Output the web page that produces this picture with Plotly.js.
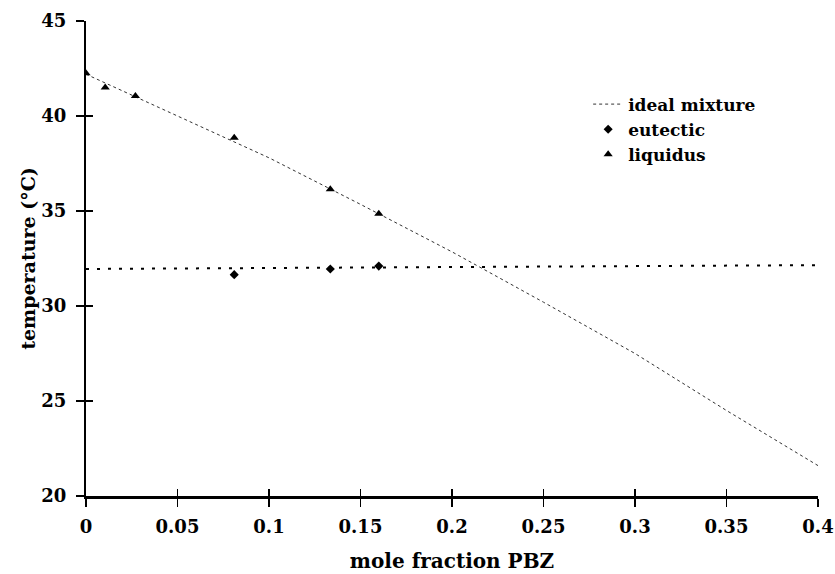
<!DOCTYPE html>
<html>
<head>
<meta charset="utf-8">
<script src="https://cdn.plot.ly/plotly-3.0.1.min.js"></script>
<style>html,body{margin:0;padding:0;background:#fff;}#chart{width:835px;height:574px;}</style>
</head>
<body>
<div id="chart"></div>
<script>
// ideal mixture curve
const idealX = [0, 0.05, 0.1, 0.15, 0.2, 0.25, 0.3, 0.35, 0.4];
const idealY = [42.2, 40.0, 37.8, 35.35, 32.85, 30.2, 27.5, 24.5, 21.6];
// liquidus points
const liquidusX = [0, 0.0105, 0.027, 0.081, 0.1335, 0.160];
const liquidusY = [42.25, 41.5, 41.05, 38.85, 36.15, 34.85];
// eutectic points
const eutecticX = [0.081, 0.1335, 0.160];
const eutecticY = [31.65, 31.95, 32.1];
// eutectic fit line
const eutFitX = [0, 0.4];
const eutFitY = [31.95, 32.15];
// ticks
const xTicks = [0, 0.05, 0.1, 0.15, 0.2, 0.25, 0.3, 0.35, 0.4];
const xTickText = ['0', '0.05', '0.1', '0.15', '0.2', '0.25', '0.3', '0.35', '0.4'];
const yTicks = [20, 25, 30, 35, 40, 45];

const FONT = 'DejaVu Serif, Liberation Serif, serif';

const traces = [
  {x: idealX, y: idealY, mode: 'lines', name: 'ideal mixture',
   line: {color: '#333', width: 1, dash: 'dot'}},
  {x: eutecticX, y: eutecticY, mode: 'markers', name: 'eutectic',
   marker: {symbol: 'diamond', size: 7, color: '#000'}},
  {x: liquidusX, y: liquidusY, mode: 'markers', name: 'liquidus',
   marker: {symbol: 'triangle-up', size: 8, color: '#000'}},
  {x: eutFitX, y: eutFitY, mode: 'lines', showlegend: false, xaxis: 'x2', yaxis: 'y2',
   line: {color: '#000', width: 2, dash: '3px,8px'}}
];

const tickFont = {family: FONT, size: 18, weight: 'bold', color: '#000'};
const layout = {
  width: 835, height: 574,
  margin: {l: 86, r: 17, t: 21, b: 78},
  paper_bgcolor: '#fff', plot_bgcolor: '#fff',
  font: {family: FONT, color: '#000'},
  showlegend: true,
  legend: {x: 0.686, y: 0.862, xanchor: 'left', yanchor: 'top',
           bgcolor: 'rgba(0,0,0,0)', font: {family: FONT, size: 17, weight: 'bold', color: '#000'},
           tracegroupgap: 0, itemwidth: 30},
  xaxis: {range: [0, 0.4], tickvals: xTicks, ticktext: xTickText,
          showgrid: false, zeroline: false, showline: true, linecolor: '#000', linewidth: 2.5,
          ticks: 'outside', ticklen: 8, tickwidth: 1.5, tickcolor: '#000',
          tickfont: tickFont, ticklabelstandoff: 5,
          title: {text: 'mole fraction PBZ', font: {family: FONT, size: 20, weight: 'bold', color: '#000'}}},
  yaxis: {range: [20, 45], tickvals: yTicks,
          showgrid: false, zeroline: false, showline: true, linecolor: '#000', linewidth: 2,
          ticks: 'outside', ticklen: 8, tickwidth: 1.5, tickcolor: '#000',
          tickfont: tickFont, ticklabelstandoff: 6,
          title: {text: 'temperature (°C)', font: {family: FONT, size: 19, weight: 'bold', color: '#000'}}},
  xaxis2: {overlaying: 'x', anchor: 'y2', range: [0, 0.4], tickvals: xTicks, side: 'bottom',
           ticks: 'inside', ticklen: 7, tickwidth: 1.5, tickcolor: '#000',
           showticklabels: false, showgrid: false, zeroline: false, showline: false},
  yaxis2: {overlaying: 'y', anchor: 'x2', range: [20, 45], tickvals: yTicks, side: 'left',
           ticks: 'inside', ticklen: 7, tickwidth: 1.5, tickcolor: '#000',
           showticklabels: false, showgrid: false, zeroline: false, showline: false}
};

Plotly.newPlot('chart', traces, layout, {staticPlot: true, displayModeBar: false});
</script>
</body>
</html>
